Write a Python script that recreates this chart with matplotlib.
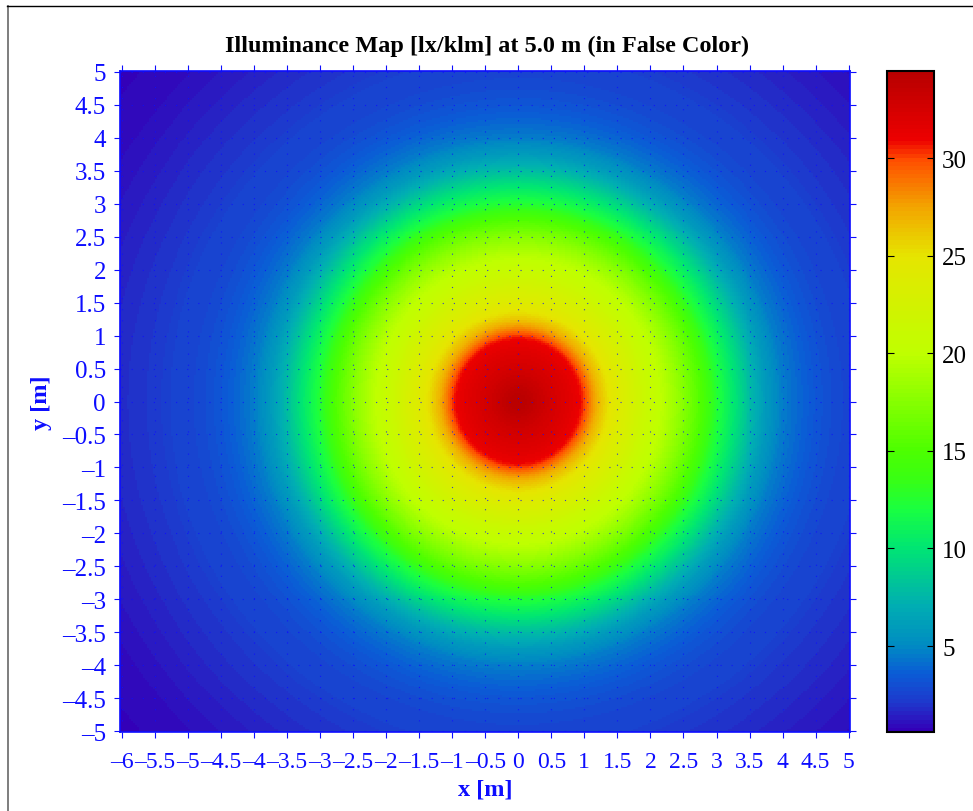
import numpy as np
import matplotlib
matplotlib.use("Agg")
import matplotlib.pyplot as plt
from matplotlib.colors import LinearSegmentedColormap
from matplotlib.lines import Line2D

plt.rcParams['font.family'] = ['Liberation Serif', 'DejaVu Serif']

radius_m = [0.0, 0.15, 0.3, 0.5, 0.7, 0.9, 0.97, 1.03, 1.1, 1.2, 1.35, 1.5, 1.75, 2.0, 2.25, 2.5,
            2.78, 3.0, 3.23, 3.5, 3.75, 4.0, 4.25, 4.5, 4.75, 5.0, 5.2, 5.35, 5.6, 6.0, 6.5, 7.07, 7.9]
illuminance = [34.3, 34.0, 33.4, 32.6, 32.0, 31.2, 30.6, 29.6, 28.3, 26.8, 25.2, 24.0, 22.4, 20.8, 19.4, 17.5,
               15.0, 12.5, 10.4, 7.9, 5.9, 4.6, 3.9, 3.3, 2.9, 2.6, 2.65, 2.35, 2.1, 1.8, 1.4, 1.0, 0.7]

x_ticks = [-6, -5.5, -5, -4.5, -4, -3.5, -3, -2.5, -2, -1.5, -1, -0.5, 0, 0.5, 1, 1.5, 2, 2.5, 3, 3.5, 4, 4.5, 5]
y_ticks = [-5, -4.5, -4, -3.5, -3, -2.5, -2, -1.5, -1, -0.5, 0, 0.5, 1, 1.5, 2, 2.5, 3, 3.5, 4, 4.5, 5]
cbar_ticks = [5, 10, 15, 20, 25, 30]

color_values = [0.6, 2.0, 3.5, 5.0, 7.0, 10.0, 12.0, 13.5, 15.0, 20.0, 25.0, 27.5, 30.0, 31.0, 34.46]
color_stops = [(0.20, 0.00, 0.72), (0.12, 0.22, 0.80), (0.04, 0.36, 0.84), (0.00, 0.55, 0.76),
               (0.00, 0.68, 0.70), (0.00, 0.90, 0.45), (0.10, 1.00, 0.25), (0.22, 1.00, 0.08), (0.30, 1.00, 0.00),
               (0.75, 1.00, 0.00), (0.90, 0.90, 0.00), (0.95, 0.65, 0.00), (1.00, 0.30, 0.00),
               (0.93, 0.00, 0.00), (0.72, 0.00, 0.00)]
vmin, vmax = color_values[0], color_values[-1]
cmap = LinearSegmentedColormap.from_list(
    "false_color", [((v - vmin) / (vmax - vmin), c) for v, c in zip(color_values, color_stops)], N=160)

W, H = 973, 812
fig = plt.figure(figsize=(W / 100, H / 100), dpi=100, facecolor="white")


def box(l, t, r, b):
    return [l / W, 1 - b / H, (r - l) / W, (b - t) / H]


BLUE = (0.05, 0.05, 1.0)
ax = fig.add_axes(box(120, 72, 850, 733))
xlim = (-6.026, 5.02)
ylim = (-5.012, 5.012)

gx = np.arange(xlim[0], xlim[1] + 0.03, 0.03)
gy = np.arange(ylim[0], ylim[1] + 0.03, 0.03)
field = np.interp(np.hypot(*np.meshgrid(gx, gy)), radius_m, illuminance)
im = ax.pcolormesh(gx, gy, field, cmap=cmap, vmin=vmin, vmax=vmax, shading="nearest", rasterized=True)
ax.set_xlim(xlim)
ax.set_ylim(ylim)

ax.set_xticks(x_ticks)
ax.set_yticks(y_ticks)
ax.set_xticklabels([f"{t:g}".replace("-", "\u2013") for t in x_ticks])
ax.set_yticklabels([f"{t:g}".replace("-", "\u2013") for t in y_ticks])
ax.tick_params(axis="both", which="major", direction="out", length=4.6, width=0.8, color=BLUE,
               labelcolor=BLUE, labelsize=17.0, top=True, right=True, pad=5.5)
ax.tick_params(axis="y", labelsize=18.0)
ax.tick_params(axis="x", pad=9)
ax.grid(True, color=BLUE, linewidth=0.8, linestyle=(0, (1.0, 9.0)), alpha=0.8)
ax.set_axisbelow(False)
for s in ax.spines.values():
    s.set_color(BLUE)
    s.set_linewidth(1.2)

fig.text(487 / W, 1 - 46 / H, "Illuminance Map [lx/klm] at 5.0 m (in False Color)", ha="center", va="center",
         fontsize=17.5, fontweight="bold", color="black")
fig.text(485 / W, 1 - 790 / H, "x [m]", ha="center", va="center", fontsize=17.5, fontweight="bold", color=BLUE)
fig.text(41 / W, 1 - 403 / H, "y [m]", ha="center", va="center", rotation=90, fontsize=17.5, fontweight="bold",
         color=BLUE)

cax = fig.add_axes(box(886.5, 72, 934.5, 733))
cb = fig.colorbar(im, cax=cax, ticks=cbar_ticks)
cb.ax.tick_params(which="major", direction="in", length=5, width=0.8, left=True, right=True,
                  labelsize=18.0, labelcolor="black", color="black", pad=5.5)
cb.outline.set_linewidth(1.5)
cb.outline.set_edgecolor("black")

fig.add_artist(Line2D([7.7 / W, 7.7 / W], [0, 1 - 7 / H], transform=fig.transFigure, color=(0.45, 0.45, 0.45), lw=1.3))
fig.add_artist(Line2D([7 / W, 1], [1 - 7 / H, 1 - 7 / H], transform=fig.transFigure, color="black", lw=1.0))

fig.savefig("out.png", dpi=100)
